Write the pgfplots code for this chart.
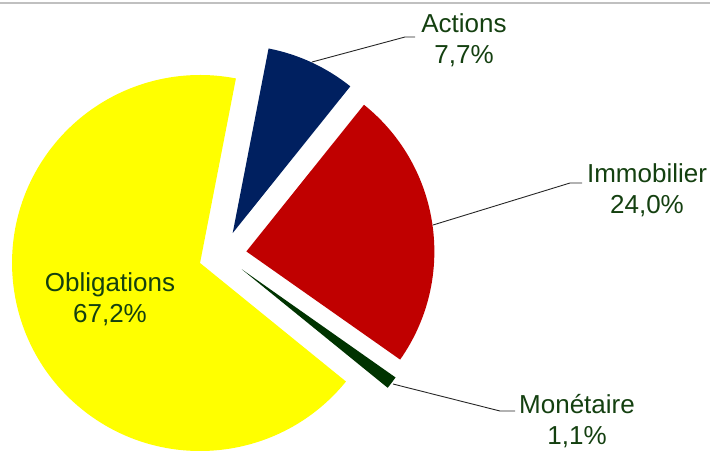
\documentclass[border=0pt]{standalone}
\usepackage{fontspec}
\setmainfont{Liberation Sans}
\usepackage{pgfplots}
\usepackage{pgfplotstable}
\pgfplotsset{compat=1.18}
\definecolor{actcol}{HTML}{002060}
\definecolor{immcol}{HTML}{C00000}
\definecolor{moncol}{HTML}{003300}
\definecolor{oblcol}{HTML}{FFFF00}
\definecolor{txtcol}{RGB}{20,64,16}
\definecolor{topline}{HTML}{C0C0C0}

\pgfplotstableread[col sep=comma]{
label,value,color
Actions,7.7,actcol
Immobilier,24.0,immcol
Monétaire,1.1,moncol
Obligations,67.2,oblcol
}\piedata

\def\rot{11}
\def\R{188}
\def\D{24}
\def\cx{222.6}
\def\cy{254.8}

\newcommand\slice[3]{%
  \pgfmathsetmacro\sa{\rot+3.6*(#1)}%
  \pgfmathsetmacro\ea{\rot+3.6*((#1)+(#2))}%
  \pgfmathsetmacro\smid{(\sa+\ea)/2}%
  \pgfmathsetmacro\tx{\cx+\D*sin(\smid)}%
  \pgfmathsetmacro\ty{\cy-\D*cos(\smid)}%
  \pgfmathsetmacro\psa{90-\sa}%
  \pgfmathsetmacro\pea{90-\ea}%
  \edef\tmp{\noexpand\fill[#3] (axis cs:\tx,\ty) -- ++(\psa:\R bp) arc[start angle=\psa, end angle=\pea, radius=\R bp] -- cycle;}%
  \tmp}

\begin{document}
\begin{tikzpicture}
\begin{axis}[name=ax,
  width=710bp, height=451bp, scale only axis,
  xmin=0, xmax=710, ymin=0, ymax=451, y dir=reverse,
  hide axis, clip=false]
  \draw[topline, line width=2bp] (axis cs:0,3) -- (axis cs:710,3);
  \def\cum{0}
  \pgfplotsforeachungrouped \i in {0,...,3}{%
    \pgfplotstablegetelem{\i}{value}\of\piedata \let\sval\pgfplotsretval
    \pgfplotstablegetelem{\i}{color}\of\piedata \let\scol\pgfplotsretval
    \slice{\cum}{\sval}{\scol}%
    \pgfmathsetmacro\cum{\cum+\sval}%
  }
  % leader lines
  \draw[black!85, line width=0.9bp] (axis cs:312,62) -- (axis cs:405,37) -- (axis cs:415,37);
  \draw[black!85, line width=0.9bp] (axis cs:433,225) -- (axis cs:570,183) -- (axis cs:582,183);
  \draw[black!85, line width=0.9bp] (axis cs:393,384) -- (axis cs:500,411) -- (axis cs:515,411);
  % labels
  \tikzset{lab/.style={text=txtcol, align=center, font=\fontsize{26bp}{31bp}\selectfont, inner sep=0pt}}
  \node[lab] at (axis cs:464,40) {Actions\\7,7\%};
  \node[lab] at (axis cs:647,190) {Immobilier\\24,0\%};
  \node[lab] at (axis cs:577,421) {Monétaire\\1,1\%};
  \node[lab] at (axis cs:110,299) {Obligations\\67,2\%};
\end{axis}
\pgfresetboundingbox
\path (ax.south west) rectangle (ax.north east);
\end{tikzpicture}
\end{document}
